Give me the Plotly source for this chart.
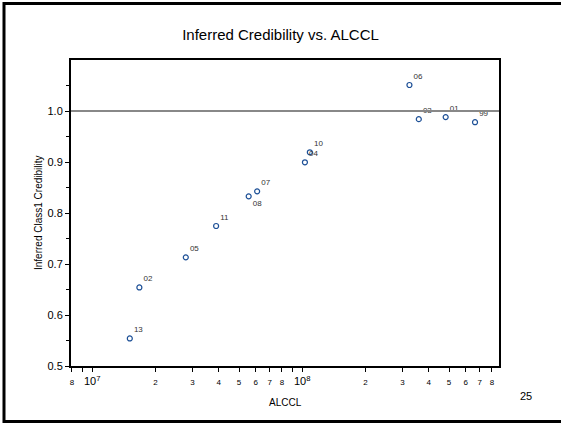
import plotly.graph_objects as go

labels = ["13", "02", "05", "11", "08", "07", "04", "10", "06", "03", "01", "99"]
alccl = [1.51e7, 1.677e7, 2.79e7, 3.89e7, 5.56e7, 6.1e7, 1.03e8, 1.087e8, 3.24e8, 3.59e8, 4.82e8, 6.65e8]
credibility = [0.554, 0.654, 0.713, 0.7745, 0.8327, 0.8425, 0.8994, 0.919, 1.051, 0.984, 0.988, 0.978]
text_pos = ["top right"] * 12
text_pos[4] = "bottom right"

x_tickvals = [8e6, 1e7, 2e7, 3e7, 4e7, 5e7, 6e7, 7e7, 8e7, 1e8,
              2e8, 3e8, 4e8, 5e8, 6e8, 7e8, 8e8]
x_minor_tickvals = [9e6, 9e7]
small = lambda s: "<span style='font-size:8px'>%s</span>" % s
x_ticktext = [small("8"), "10<sup>7</sup>", small("2"), small("3"), small("4"), small("5"),
              small("6"), small("7"), small("8"), "10<sup>8</sup>", small("2"), small("3"),
              small("4"), small("5"), small("6"), small("7"), small("8")]
y_tickvals = [0.5, 0.6, 0.7, 0.8, 0.9, 1.0]
y_ticktext = ["0.5", "0.6", "0.7", "0.8", "0.9", "1.0"]
y_minor_tickvals = [0.55, 0.65, 0.75, 0.85, 0.95, 1.05]

FONT = "Liberation Sans, Arial, sans-serif"

fig = go.Figure()
fig.add_trace(go.Scatter(
    x=alccl, y=credibility, mode="markers+text", text=labels,
    textposition=text_pos,
    textfont=dict(size=8, color="#333333", family=FONT),
    marker=dict(symbol="circle-open", size=5, color="#1c4f96", line=dict(width=1.2, color="#1c4f96")),
    showlegend=False, hoverinfo="x+y+text",
))

L, R, T, B = 71, 62, 60, 58
W, H = 561, 424
pw, ph = W - L - R, H - T - B

def px(xp):
    return (xp - L) / pw

def py(yp):
    return (H - B - yp) / ph

fig.update_layout(
    width=W, height=H,
    margin=dict(l=L, r=R, t=T, b=B, autoexpand=False),
    paper_bgcolor="white", plot_bgcolor="white",
    font=dict(family=FONT, color="black", size=11),
    title=dict(text="Inferred Credibility vs. ALCCL", x=0.5, xanchor="center",
               y=1 - 35 / H, yanchor="middle", font=dict(size=15, family=FONT, color="black")),
    xaxis=dict(type="log", range=[6.899, 8.937], tickmode="array", tickvals=x_tickvals,
               ticktext=x_ticktext, ticks="outside", ticklen=4, tickwidth=1, tickcolor="black",
               minor=dict(tickvals=x_minor_tickvals, ticks="outside", ticklen=4, tickcolor="black"),
               showgrid=False, zeroline=False, showline=True, linecolor="black", linewidth=2,
               mirror=True, tickfont=dict(size=11, family=FONT, color="black")),
    yaxis=dict(range=[0.5, 1.1], tickmode="array", tickvals=y_tickvals,
               ticktext=y_ticktext,
               ticks="outside", ticklen=4, tickwidth=1, tickcolor="black",
               minor=dict(tickvals=y_minor_tickvals, ticks="outside",
                          ticklen=3, tickcolor="black"),
               showgrid=False, zeroline=False, showline=True, linecolor="black", linewidth=2,
               mirror=True, tickfont=dict(size=11, family=FONT, color="black")),
    shapes=[
        dict(type="line", xref="paper", yref="y", x0=0, x1=1, y0=1.0, y1=1.0,
             line=dict(color="#888888", width=2)),
        dict(type="rect", xref="paper", yref="paper", x0=px(4), x1=px(566), y0=py(421.5), y1=py(3.5),
             line=dict(color="black", width=3), layer="above"),
    ],
    annotations=[
        dict(text="ALCCL", xref="paper", yref="paper", x=px(285), y=py(402), showarrow=False,
             xanchor="center", yanchor="middle", font=dict(size=10, family=FONT)),
        dict(text="Inferred Class1 Credibility", xref="paper", yref="paper", x=px(38), y=py(213),
             textangle=-90, showarrow=False, xanchor="center", yanchor="middle",
             font=dict(size=10, family=FONT)),
        dict(text="25", xref="paper", yref="paper", x=px(526), y=py(396), showarrow=False,
             xanchor="center", yanchor="middle", font=dict(size=11, family=FONT)),
    ],
)

fig.write_html("out.html", config={"displayModeBar": False},
               post_script="document.body.style.margin='0px';")
